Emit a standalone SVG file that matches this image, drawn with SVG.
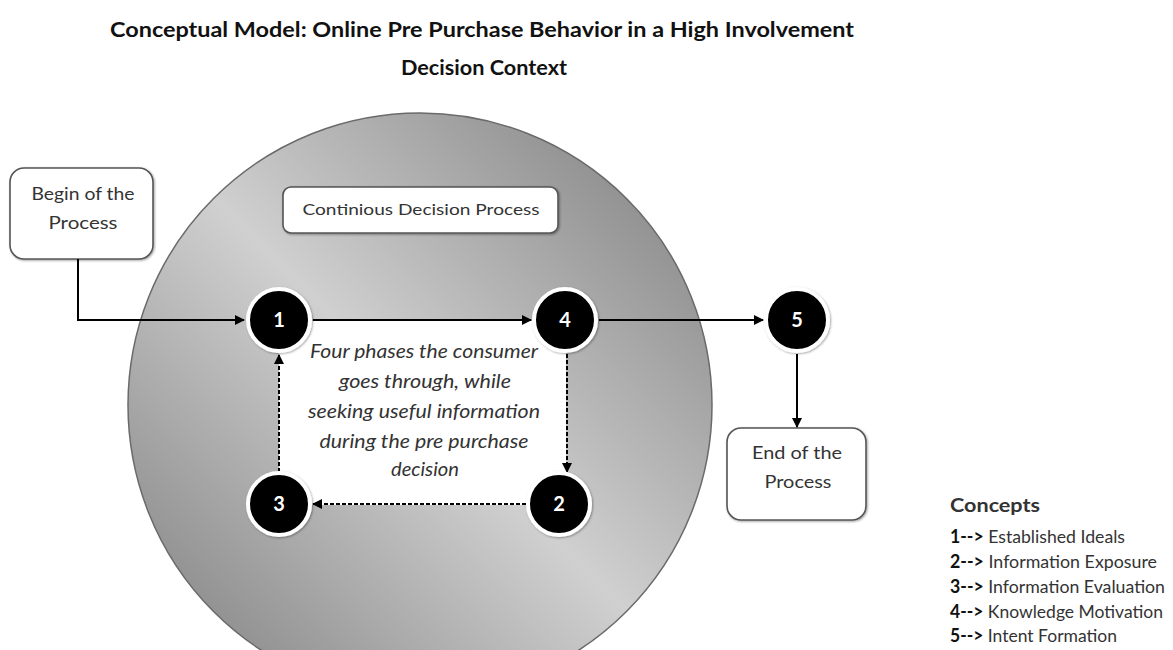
<svg xmlns="http://www.w3.org/2000/svg" width="1173" height="650" viewBox="0 0 1173 650">
  <defs>
    <linearGradient id="bigGrad" x1="1" y1="0" x2="0" y2="1">
      <stop offset="0" stop-color="#7a7a7a"/>
      <stop offset="0.5" stop-color="#d0d0d0"/>
      <stop offset="1" stop-color="#7a7a7a"/>
    </linearGradient>
    <marker id="arr" viewBox="0 0 10 10" refX="9" refY="5" markerWidth="5" markerHeight="5" orient="auto" markerUnits="strokeWidth">
      <path d="M0,0 L10,5 L0,10 z" fill="#000"/>
    </marker>
    <filter id="shadow" x="-20%" y="-20%" width="140%" height="140%">
      <feDropShadow dx="1" dy="1" stdDeviation="1.2" flood-color="#000" flood-opacity="0.35"/>
    </filter>
  </defs>
  <style>
    .box { fill: #fff; stroke: #555; stroke-width: 1.6; }
    .lbl { font-family: Lato, "Open Sans", "Liberation Sans", sans-serif; fill: #333; text-anchor: middle; }
    .desc { font-family: Lato, "Open Sans", "Liberation Sans", sans-serif; fill: #333; text-anchor: middle; font-style: italic; font-size: 18.5px; }
    .title { font-family: Lato, "Open Sans", "Liberation Sans", sans-serif; font-weight: bold; fill: #111; text-anchor: middle; font-size: 20.5px; }
    .node circle { fill: #000; stroke: #fff; stroke-width: 4; }
    .num { font-family: Lato, "Liberation Sans", sans-serif; font-weight: bold; fill: #fff; font-size: 20px; text-anchor: middle; }
    .solid { stroke: #000; stroke-width: 2; fill: none; }
    .dash { stroke: #000; stroke-width: 2; fill: none; stroke-dasharray: 4 2; }
    .leg { font-family: Lato, "Open Sans", "Liberation Sans", sans-serif; fill: #333; font-size: 18px; }
  </style>

  <g id="title">
    <text class="title" x="482" y="37" textLength="744" lengthAdjust="spacingAndGlyphs">Conceptual Model: Online Pre Purchase Behavior in a High Involvement</text>
    <text class="title" x="484" y="75" textLength="166" lengthAdjust="spacingAndGlyphs">Decision Context</text>
  </g>

  <g id="process-circle">
    <circle cx="420" cy="405" r="292" fill="url(#bigGrad)" stroke="#6a6a6a" stroke-width="1.5"/>
    <rect x="279" y="321" width="287" height="184" fill="#fff"/>
  </g>

  <g id="begin">
    <rect class="box" x="10" y="168" width="143" height="91" rx="14" filter="url(#shadow)"/>
    <text class="lbl" x="83" y="200" font-size="18" textLength="103" lengthAdjust="spacingAndGlyphs">Begin of the</text>
    <text class="lbl" x="83" y="229" font-size="18" textLength="69" lengthAdjust="spacingAndGlyphs">Process</text>
  </g>

  <g id="continuous">
    <rect class="box" x="283" y="187" width="275" height="46" rx="8" filter="url(#shadow)"/>
    <text class="lbl" x="421" y="215" font-size="16" textLength="237" lengthAdjust="spacingAndGlyphs">Continious Decision Process</text>
  </g>

  <g id="end">
    <rect class="box" x="727" y="428" width="139" height="92" rx="14" filter="url(#shadow)"/>
    <text class="lbl" x="797" y="459" font-size="18" textLength="90" lengthAdjust="spacingAndGlyphs">End of the</text>
    <text class="lbl" x="798" y="488" font-size="18" textLength="67" lengthAdjust="spacingAndGlyphs">Process</text>
  </g>

  <g id="description">
    <text class="desc" x="424" y="358" textLength="228" lengthAdjust="spacingAndGlyphs">Four phases the consumer</text>
    <text class="desc" x="425" y="388" textLength="172" lengthAdjust="spacingAndGlyphs">goes through, while</text>
    <text class="desc" x="424" y="418" textLength="232" lengthAdjust="spacingAndGlyphs">seeking useful information</text>
    <text class="desc" x="424" y="448" textLength="209" lengthAdjust="spacingAndGlyphs">during the pre purchase</text>
    <text class="desc" x="425" y="476" textLength="68" lengthAdjust="spacingAndGlyphs">decision</text>
  </g>

  <g id="connectors">
    <path class="solid" d="M78,259 V320 H244" marker-end="url(#arr)"/>
    <path class="solid" d="M313,320 H531" marker-end="url(#arr)"/>
    <path class="solid" d="M599,320 H763" marker-end="url(#arr)"/>
    <path class="solid" d="M797,354 V427" marker-end="url(#arr)"/>
    <path class="dash" d="M567,354 V472" marker-end="url(#arr)"/>
    <path class="dash" d="M526,504 H313" marker-end="url(#arr)"/>
    <path class="dash" d="M279,472 V355" marker-end="url(#arr)"/>
  </g>

  <g id="node1" class="node">
    <circle cx="279" cy="320" r="31" filter="url(#shadow)"/>
    <text class="num" x="279" y="327">1</text>
  </g>
  <g id="node4" class="node">
    <circle cx="565" cy="320" r="31" filter="url(#shadow)"/>
    <text class="num" x="565" y="327">4</text>
  </g>
  <g id="node5" class="node">
    <circle cx="797" cy="320" r="31" filter="url(#shadow)"/>
    <text class="num" x="797" y="327">5</text>
  </g>
  <g id="node3" class="node">
    <circle cx="279" cy="504" r="31" filter="url(#shadow)"/>
    <text class="num" x="279" y="511">3</text>
  </g>
  <g id="node2" class="node">
    <circle cx="559" cy="504" r="31" filter="url(#shadow)"/>
    <text class="num" x="559" y="511">2</text>
  </g>

  <g id="legend">
    <text class="leg" x="950" y="512" font-size="20" font-weight="bold" fill="#111" textLength="90" lengthAdjust="spacingAndGlyphs">Concepts</text>
    <text class="leg" x="950" y="543" textLength="175" lengthAdjust="spacingAndGlyphs"><tspan font-weight="bold" fill="#111">1--&gt;</tspan> Established Ideals</text>
    <text class="leg" x="950" y="568" textLength="207" lengthAdjust="spacingAndGlyphs"><tspan font-weight="bold" fill="#111">2--&gt;</tspan> Information Exposure</text>
    <text class="leg" x="950" y="593" textLength="215" lengthAdjust="spacingAndGlyphs"><tspan font-weight="bold" fill="#111">3--&gt;</tspan> Information Evaluation</text>
    <text class="leg" x="950" y="618" textLength="213" lengthAdjust="spacingAndGlyphs"><tspan font-weight="bold" fill="#111">4--&gt;</tspan> Knowledge Motivation</text>
    <text class="leg" x="950" y="642" textLength="167" lengthAdjust="spacingAndGlyphs"><tspan font-weight="bold" fill="#111">5--&gt;</tspan> Intent Formation</text>
  </g>
</svg>
